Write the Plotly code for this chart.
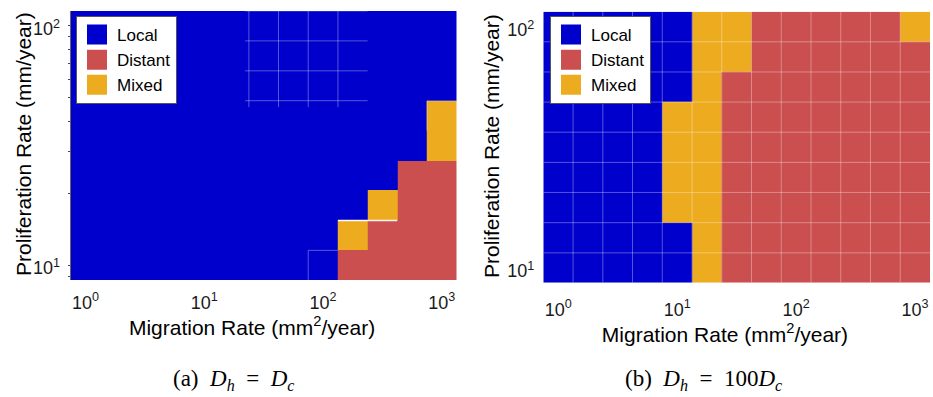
import math
import plotly.graph_objects as go

# ---------------- data ----------------
migration_rates = [1.0, 1.78, 3.16, 5.62, 10.0, 17.8, 31.6, 56.2, 100.0, 178.0, 316.0, 562.0, 1000.0]
proliferation_rates = [10.0, 13.3, 17.8, 23.7, 31.6, 42.2, 56.2, 75.0, 100.0]
categories = ["Local", "Distant", "Mixed"]          # codes 0, 1, 2
category_colors = ["#0000CC", "#CC4F4F", "#EDAC1F"]
x_tick_vals = [1, 10, 100, 1000]
x_tick_text = ["10<sup>0</sup>", "10<sup>1</sup>", "10<sup>2</sup>", "10<sup>3</sup>"]
y_tick_vals = [10, 100]
y_tick_text = ["10<sup>1</sup>", "10<sup>2</sup>"]
y_minor_vals = [9, 20, 30, 40, 50, 60, 70, 80, 90]

# rows listed from top (100 mm/year) to bottom (10 mm/year)
outcome_equal = [
    [0, 0, 0, 0, 0, 0, 0, 0, 0, 0, 0, 0, 0],
    [0, 0, 0, 0, 0, 0, 0, 0, 0, 0, 0, 0, 0],
    [0, 0, 0, 0, 0, 0, 0, 0, 0, 0, 0, 0, 0],
    [0, 0, 0, 0, 0, 0, 0, 0, 0, 0, 0, 0, 2],
    [0, 0, 0, 0, 0, 0, 0, 0, 0, 0, 0, 0, 2],
    [0, 0, 0, 0, 0, 0, 0, 0, 0, 0, 0, 1, 1],
    [0, 0, 0, 0, 0, 0, 0, 0, 0, 0, 2, 1, 1],
    [0, 0, 0, 0, 0, 0, 0, 0, 0, 2, 1, 1, 1],
    [0, 0, 0, 0, 0, 0, 0, 0, 0, 1, 1, 1, 1],
]
outcome_100 = [
    [0, 0, 0, 0, 0, 2, 2, 1, 1, 1, 1, 1, 2],
    [0, 0, 0, 0, 0, 2, 2, 1, 1, 1, 1, 1, 1],
    [0, 0, 0, 0, 0, 2, 1, 1, 1, 1, 1, 1, 1],
    [0, 0, 0, 0, 2, 2, 1, 1, 1, 1, 1, 1, 1],
    [0, 0, 0, 0, 2, 2, 1, 1, 1, 1, 1, 1, 1],
    [0, 0, 0, 0, 2, 2, 1, 1, 1, 1, 1, 1, 1],
    [0, 0, 0, 0, 2, 2, 1, 1, 1, 1, 1, 1, 1],
    [0, 0, 0, 0, 0, 2, 1, 1, 1, 1, 1, 1, 1],
    [0, 0, 0, 0, 0, 2, 1, 1, 1, 1, 1, 1, 1],
]
captions = ["(a)&nbsp; <i>D</i><sub><i>h</i></sub>&nbsp;&nbsp;=&nbsp;&nbsp;<i>D</i><sub><i>c</i></sub>",
            "(b)&nbsp; <i>D</i><sub><i>h</i></sub>&nbsp;&nbsp;=&nbsp;&nbsp;100<i>D</i><sub><i>c</i></sub>"]
xtitle = "Migration Rate (mm<sup>2</sup>/year)"
ytitle = "Proliferation Rate (mm/year)"


# ---------------- helpers ----------------
def log_edges(c):
    """cell edges (geometric midpoints) for log-spaced centres"""
    mids = [math.sqrt(c[i] * c[i + 1]) for i in range(len(c) - 1)]
    first = c[0] * c[0] / mids[0]
    last = c[-1] * c[-1] / mids[-1]
    return [first] + mids + [last]


xe = log_edges(migration_rates)
ye = log_edges(proliferation_rates)

n = len(categories)
colorscale = []
for i, col in enumerate(category_colors):
    colorscale.append([i / n, col])
    colorscale.append([(i + 1) / n, col])

FONT = "Liberation Sans, Arial, Helvetica, sans-serif"
SERIF = "Liberation Serif, Times New Roman, serif"
TXT = "#1a1a1a"

fig = go.Figure()

for k, (z, xa, ya) in enumerate([(outcome_equal, "x", "y"), (outcome_100, "x2", "y2")]):
    fig.add_trace(go.Heatmap(
        x=xe, y=ye, z=z[::-1],
        zmin=-0.5, zmax=n - 0.5, colorscale=colorscale, showscale=False,
        xaxis=xa, yaxis=ya, hoverinfo="skip",
    ))
    for name, col in zip(categories, category_colors):
        fig.add_trace(go.Scatter(
            x=[None], y=[None], mode="markers", name=name,
            marker=dict(symbol="square", size=16, color=col, line=dict(color=col, width=4)),
            xaxis=xa, yaxis=ya, legend="legend" if k == 0 else "legend2",
            showlegend=True,
        ))

# faint white cell-boundary lines
shapes = []
GL = "rgba(255,255,255,0.33)"


def vline(xref, yref, xv, y0, y1, color=GL, w=1):
    shapes.append(dict(type="line", xref=xref, yref=yref, x0=xv, x1=xv, y0=y0, y1=y1,
                       line=dict(color=color, width=w), layer="above"))


def hline(xref, yref, yv, x0, x1, color=GL, w=1):
    shapes.append(dict(type="line", xref=xref, yref=yref, y0=yv, y1=yv, x0=x0, x1=x1,
                       line=dict(color=color, width=w), layer="above"))


# panel (b): full grid
for xv in xe[1:-1]:
    vline("x2", "y2", xv, ye[0], ye[-1])
for yv in ye[1:-1]:
    hline("x2", "y2", yv, xe[0], xe[-1])

# panel (a): partial grid patches as rendered in the original
for i in range(6, 10):
    vline("x", "y", xe[i], ye[6] * 0.94, ye[-1])
for j in range(6, 10):
    hline("x", "y", ye[j], xe[6] * 0.93, xe[10])
hline("x", "y", ye[6], xe[12], xe[13])
vline("x", "y", xe[12], ye[5], ye[6])
hline("x", "y", ye[2], xe[9], xe[11], color="rgba(255,255,255,0.95)", w=1.5)
hline("x", "y", ye[1], xe[8], xe[9])
vline("x", "y", xe[8], ye[0], ye[1])

xrange = [math.log10(xe[0]), math.log10(xe[-1])]
yrange = [math.log10(ye[0]), math.log10(ye[-1])]

pad = "&nbsp;" * 4   # MATLAB centres the label slightly left of the axis middle
common_x = dict(type="log", range=xrange, showgrid=False, zeroline=False,
                tickvals=x_tick_vals, ticktext=x_tick_text, ticks="",
                tickfont=dict(family=FONT, size=18, color=TXT),
                title=dict(text=xtitle + pad, font=dict(family=FONT, size=21, color="black")))
common_y = dict(type="log", range=yrange, showgrid=False, zeroline=False,
                tickvals=y_tick_vals, ticktext=y_tick_text,
                tickfont=dict(family=FONT, size=18, color=TXT), ticklabelshift=3)

legend_style = dict(xanchor="left", yanchor="top", bgcolor="white", bordercolor="#555",
                    borderwidth=1, font=dict(family=FONT, size=17, color="black"),
                    tracegroupgap=0)

fig.update_layout(
    width=933, height=397,
    margin=dict(l=0, r=0, t=0, b=0),
    paper_bgcolor="white", plot_bgcolor="white",
    xaxis=dict(common_x, domain=[70.7 / 933, 456.7 / 933], anchor="y",
               ticklabelstandoff=10, title_standoff=1),
    yaxis=dict(common_y, domain=[1 - 280 / 397, 1 - 11 / 397], anchor="x",
               showline=True, linecolor="#666", linewidth=1,
               ticks="outside", ticklen=2, tickcolor="#444",
               minor=dict(tickvals=y_minor_vals, ticks="outside", ticklen=2, tickcolor="#444"),
               ticklabelstandoff=4),
    xaxis2=dict(common_x, domain=[543.3 / 933, 930 / 933], anchor="y2",
                ticklabelstandoff=14, title_standoff=0),
    yaxis2=dict(common_y, domain=[1 - 282.7 / 397, 1 - 11.7 / 397], anchor="x2",
                ticks="", ticklabelstandoff=8),
    legend=dict(legend_style, x=76 / 933, y=1 - 16 / 397),
    legend2=dict(legend_style, x=550 / 933, y=1 - 16 / 397),
    shapes=shapes,
    annotations=[
        # y-axis titles
        dict(text=ytitle, xref="paper", yref="paper", x=23 / 933, y=1 - 144 / 397,
             xanchor="center", yanchor="middle", textangle=-90, showarrow=False,
             font=dict(family=FONT, size=21, color="black")),
        dict(text=ytitle, xref="paper", yref="paper", x=491 / 933, y=1 - 146 / 397,
             xanchor="center", yanchor="middle", textangle=-90, showarrow=False,
             font=dict(family=FONT, size=21, color="black")),
        # sub-figure captions
        dict(text=captions[0], xref="paper", yref="paper", x=233 / 933, y=1 - 380 / 397,
             xanchor="center", yanchor="middle", showarrow=False,
             font=dict(family=SERIF, size=23, color="black")),
        dict(text=captions[1], xref="paper", yref="paper", x=703 / 933, y=1 - 380 / 397,
             xanchor="center", yanchor="middle", showarrow=False,
             font=dict(family=SERIF, size=23, color="black")),
    ],
)

fig.write_html("out.html")
